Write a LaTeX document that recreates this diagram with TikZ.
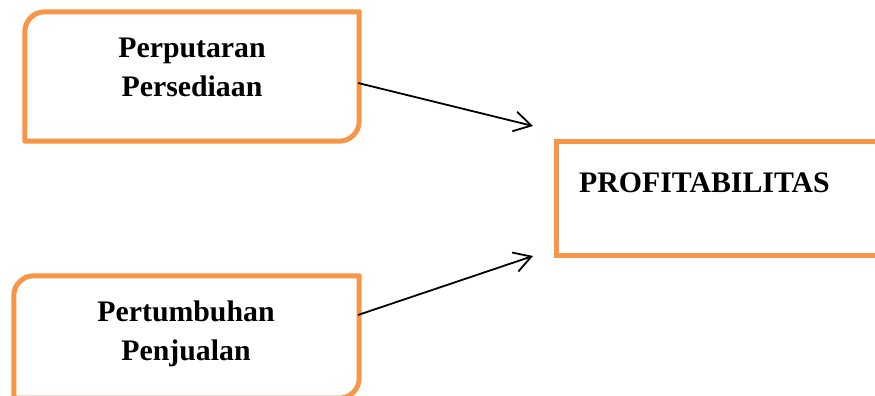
\documentclass[tikz,border=0pt]{standalone}
\usepackage{fontspec}
\setmainfont{Liberation Serif}
\usetikzlibrary{arrows.meta}
\definecolor{boxorange}{HTML}{F79646}
\tikzset{
  outline/.style={draw=boxorange, line width=5pt, line join=round},
  lbl/.style={font=\bfseries\fontsize{29.8}{35}\selectfont, inner sep=0pt, anchor=base},
  hidden/.style={rectangle, inner sep=0pt, draw=none},
  conn/.style={draw=black, line width=1.8pt, -{Straight Barb[length=17pt, width=20pt, line width=1.8pt]}}
}
\begin{document}
\begin{tikzpicture}[x=1pt, y=1pt]
\useasboundingbox (0,0) rectangle (875,396);
% box geometry (invisible named nodes)
\node[hidden, minimum width=334pt, minimum height=129pt] (pp) at (192,319.5) {};
\node[hidden, minimum width=345pt, minimum height=122pt] (pj) at (186.5,59) {};
\node[hidden, minimum width=323pt, minimum height=113pt] (pr) at (718.5,197.5) {};
% outlines
\draw[outline] (pp.south west) -- ([yshift=-20pt]pp.north west)
  arc[start angle=180, end angle=90, radius=20pt] -- (pp.north east)
  -- ([yshift=20pt]pp.south east) arc[start angle=0, end angle=-90, radius=20pt] -- cycle;
\draw[outline] (pj.south west) -- ([yshift=-20pt]pj.north west)
  arc[start angle=180, end angle=90, radius=20pt] -- (pj.north east)
  -- ([yshift=20pt]pj.south east) arc[start angle=0, end angle=-90, radius=20pt] -- cycle;
\draw[outline, line join=miter] (pr.south west) rectangle (pr.north east);
% labels
\node[lbl] (pp1) at (192,338) {Perputaran};
\node[lbl] (pp2) at (192,299) {Persediaan};
\node[lbl] (pj1) at (186,74) {Pertumbuhan};
\node[lbl] (pj2) at (186,35) {Penjualan};
\node[lbl, anchor=base west] (pr1) at (579,203) {PROFITABILITAS};
% connectors
\coordinate (s1) at (358,313);
\coordinate (e1) at (533,270);
\coordinate (s2) at (358,81);
\coordinate (e2) at (533,140);
\draw[conn] (s1) -- (e1);
\draw[conn] (s2) -- (e2);
\end{tikzpicture}
\end{document}
